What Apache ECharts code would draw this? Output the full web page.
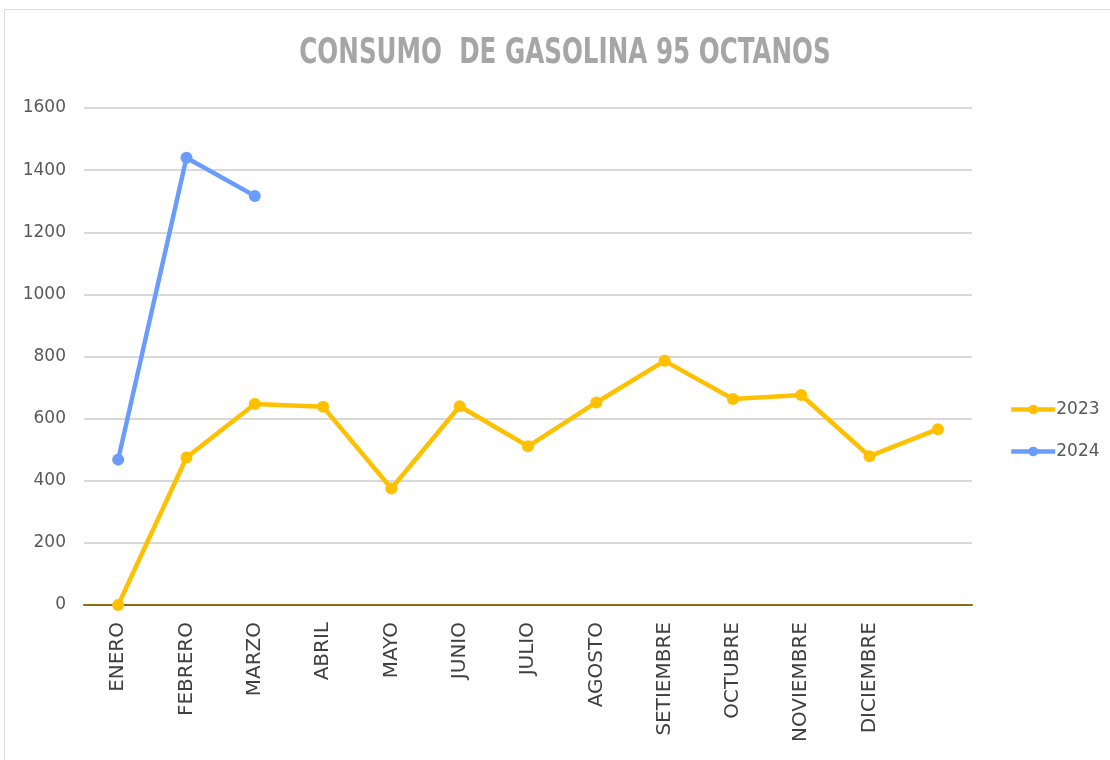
<!DOCTYPE html>
<html>
<head>
<meta charset="UTF-8">
<title>Consumo de gasolina 95 octanos</title>
<script src="https://cdn.jsdelivr.net/npm/echarts@6/dist/echarts.min.js"></script>
<style>
  html, body { margin: 0; padding: 0; background: #fff; }
  #frame { position: absolute; left: 4px; top: 9px; width: 1200px; height: 900px; border: 1px solid #d9d9d9; }
  #myChart { position: absolute; left: 0; top: 0; width: 1110px; height: 760px; }
</style>
</head>
<body>
<div id="frame"></div>
<div id="myChart"></div>
<script>
  var titulo = 'CONSUMO  DE GASOLINA 95 OCTANOS';
  var meses = ['ENERO', 'FEBRERO', 'MARZO', 'ABRIL', 'MAYO', 'JUNIO', 'JULIO', 'AGOSTO',
    'SETIEMBRE', 'OCTUBRE', 'NOVIEMBRE', 'DICIEMBRE', ''];
  var datos2023 = [0, 475, 647, 638, 375, 640, 511, 652, 786, 663, 676, 479, 566];
  var datos2024 = [468, 1440, 1317];
  var yMin = 0, yMax = 1600, yStep = 200;

  var labelFont = '"DejaVu Sans", sans-serif';
  var myChart = echarts.init(document.getElementById('myChart'));

  function serie(name, color, data) {
    return {
      name: name,
      type: 'line',
      data: data,
      symbol: 'circle',
      symbolSize: 12,
      lineStyle: { width: 4.5, color: color },
      itemStyle: { color: color },
      z: name == '2024' ? 3 : 2
    };
  }

  myChart.setOption({
    animation: false,
    // titulo condensado: se estrecha con scaleX
    graphic: [{
      type: 'text',
      x: 565,
      y: 54,
      scaleX: 0.76,
      style: {
        text: titulo,
        align: 'center',
        verticalAlign: 'middle',
        font: 'bold 36px "DejaVu Sans Condensed", "Liberation Sans", sans-serif',
        fill: '#a6a6a6'
      }
    }],
    grid: { left: 84, right: 138, top: 108, bottom: 155 },
    legend: {
      orient: 'vertical',
      left: 1004,
      top: 396,
      itemWidth: 44,
      itemHeight: 12,
      itemGap: 25,
      lineStyle: { width: 4.5 },
      textStyle: { fontFamily: labelFont, fontSize: 17, color: '#595959', padding: [0, 0, 0, -4] },
      data: ['2023', '2024']
    },
    xAxis: {
      type: 'category',
      data: meses,
      boundaryGap: true,
      axisLine: { lineStyle: { color: '#8c6d12', width: 2 } },
      axisTick: { show: false },
      axisLabel: {
        rotate: 90,
        interval: 0,
        margin: 17,
        fontFamily: labelFont,
        fontSize: 20,
        color: '#404040'
      }
    },
    yAxis: {
      type: 'value',
      min: yMin,
      max: yMax,
      interval: yStep,
      axisLine: { show: false },
      axisTick: { show: false },
      splitLine: { lineStyle: { color: '#d9d9d9', width: 2 } },
      axisLabel: {
        margin: 18,
        fontFamily: labelFont,
        fontSize: 17,
        color: '#595959',
        formatter: function(v) { return String(v); }
      }
    },
    series: [
      serie('2023', '#ffc000', datos2023),
      serie('2024', '#6a9bff', datos2024)
    ]
  });
</script>
</body>
</html>
